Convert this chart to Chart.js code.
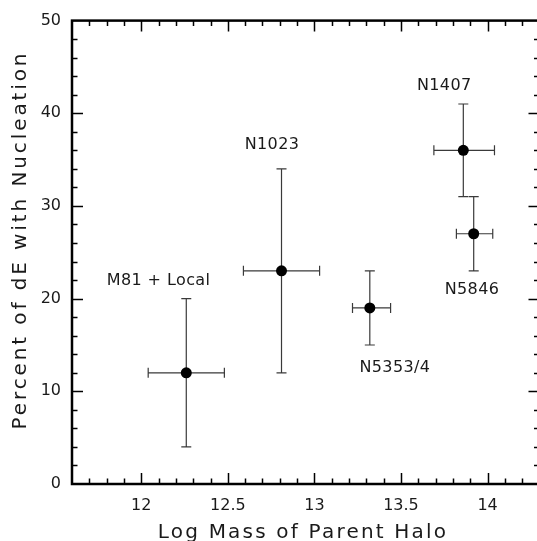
<!DOCTYPE html>
<html>
<head>
<meta charset="utf-8">
<script src="https://cdn.jsdelivr.net/npm/chart.js@4.4.0/dist/chart.umd.min.js"></script>
<style>
  html, body { margin: 0; padding: 0; background: #fff; overflow: hidden; }
  canvas { display: block; }
</style>
</head>
<body>
<canvas id="haloChart" width="545" height="541"></canvas>
<script>
const groups = ["M81 + Local", "N1023", "N5353/4", "N1407", "N5846"];
const logMass = [12.26, 12.81, 13.32, 13.86, 13.92];
const massLo = [12.04, 12.59, 13.22, 13.69, 13.82];
const massHi = [12.48, 13.03, 13.44, 14.04, 14.03];
const pctNucleated = [12, 23, 19, 36, 27];
const pctLo = [4, 12, 15, 31, 23];
const pctHi = [20, 34, 23, 41, 31];
// where each group name sits, in data units
const labelX = [12.10, 12.755, 13.465, 13.75, 13.91];
const labelY = [21.9, 36.6, 12.5, 43.0, 21.0];
const xTicks = [12, 12.5, 13, 13.5, 14];
const yTicks = [0, 10, 20, 30, 40, 50];
const xTitle = "Log Mass of Parent Halo";
const yTitle = "Percent of dE with Nucleation";

const FONT = "DejaVu Sans";

// error bars under the points
const errorBars = {
  id: "errorBars",
  beforeDatasetsDraw(chart) {
    const ctx = chart.ctx;
    const xs = chart.scales.x, ys = chart.scales.y;
    const cap = 5;
    ctx.save();
    ctx.strokeStyle = "#3a3a3a";
    ctx.lineWidth = 1.2;
    logMass.forEach((m, i) => {
      const px = xs.getPixelForValue(m);
      const py = ys.getPixelForValue(pctNucleated[i]);
      const x0 = xs.getPixelForValue(massLo[i]);
      const x1 = xs.getPixelForValue(massHi[i]);
      const y0 = ys.getPixelForValue(pctLo[i]);
      const y1 = ys.getPixelForValue(pctHi[i]);
      ctx.beginPath();
      ctx.moveTo(x0, py); ctx.lineTo(x1, py);
      ctx.moveTo(x0, py - cap); ctx.lineTo(x0, py + cap);
      ctx.moveTo(x1, py - cap); ctx.lineTo(x1, py + cap);
      ctx.moveTo(px, y0); ctx.lineTo(px, y1);
      ctx.moveTo(px - cap, y0); ctx.lineTo(px + cap, y0);
      ctx.moveTo(px - cap, y1); ctx.lineTo(px + cap, y1);
      ctx.stroke();
    });
    ctx.restore();
  }
};

// box frame with inward ticks, axis titles and the group names
const frame = {
  id: "frame",
  afterDraw(chart) {
    const ctx = chart.ctx;
    const a = chart.chartArea;
    const xs = chart.scales.x, ys = chart.scales.y;
    ctx.save();
    ctx.strokeStyle = "#000";
    ctx.lineWidth = 1.5;
    ctx.beginPath();
    for (let i = 117; i <= 142; i++) {
      const px = Math.round(xs.getPixelForValue(i / 10)) + 0.5;
      const len = i % 5 === 0 ? 11 : 5.5;
      ctx.moveTo(px, a.bottom); ctx.lineTo(px, a.bottom - len);
      ctx.moveTo(px, a.top); ctx.lineTo(px, a.top + len);
    }
    for (let v = 2; v <= 48; v += 2) {
      const py = Math.round(ys.getPixelForValue(v)) + 0.5;
      const len = v % 10 === 0 ? 11 : 5.5;
      ctx.moveTo(a.left, py); ctx.lineTo(a.left + len, py);
      ctx.moveTo(a.right, py); ctx.lineTo(a.right - len, py);
    }
    ctx.stroke();
    ctx.lineWidth = 2.5;
    ctx.strokeRect(a.left, a.top, a.right - a.left, a.bottom - a.top);

    ctx.fillStyle = "#1a1a1a";
    ctx.textAlign = "center";
    ctx.textBaseline = "middle";
    ctx.font = "16px '" + FONT + "'";
    ctx.letterSpacing = "0.4px";
    groups.forEach((g, i) => {
      ctx.fillText(g, xs.getPixelForValue(labelX[i]), ys.getPixelForValue(labelY[i]));
    });

    ctx.font = "20px '" + FONT + "'";
    ctx.textBaseline = "alphabetic";
    ctx.letterSpacing = "2.2px";
    ctx.fillText(xTitle, 303, 538);
    ctx.save();
    ctx.translate(26, 240);
    ctx.rotate(-Math.PI / 2);
    ctx.letterSpacing = "2.9px";
    ctx.fillText(yTitle, 0, 0);
    ctx.restore();
    ctx.restore();
  }
};

new Chart(document.getElementById("haloChart"), {
  type: "scatter",
  data: {
    datasets: [{
      data: logMass.map((m, i) => ({ x: m, y: pctNucleated[i] })),
      pointRadius: 5.5,
      pointHoverRadius: 5.5,
      backgroundColor: "#000",
      borderWidth: 0,
      showLine: false
    }]
  },
  options: {
    responsive: false,
    animation: false,
    layout: { padding: { top: 17, right: 3, left: 0, bottom: 0 } },
    plugins: { legend: { display: false }, tooltip: { enabled: false } },
    scales: {
      x: {
        type: "linear",
        min: 11.6,
        max: 14.3,
        grid: { display: false, drawTicks: false },
        border: { display: false },
        afterBuildTicks: s => { s.ticks = xTicks.map(v => ({ value: v })); },
        afterFit: s => { s.height = 57; },
        ticks: {
          color: "#1a1a1a",
          padding: 12,
          maxRotation: 0,
          font: { family: FONT, size: 16 },
          callback: v => String(v)
        }
      },
      y: {
        min: 0,
        max: 50,
        grid: { display: false, drawTicks: false },
        border: { display: false },
        afterBuildTicks: s => { s.ticks = yTicks.map(v => ({ value: v })); },
        afterFit: s => { s.width = 72; },
        ticks: {
          color: "#1a1a1a",
          padding: 11,
          font: { family: FONT, size: 16 },
          callback: v => String(v)
        }
      }
    }
  },
  plugins: [errorBars, frame]
});
</script>
</body>
</html>
